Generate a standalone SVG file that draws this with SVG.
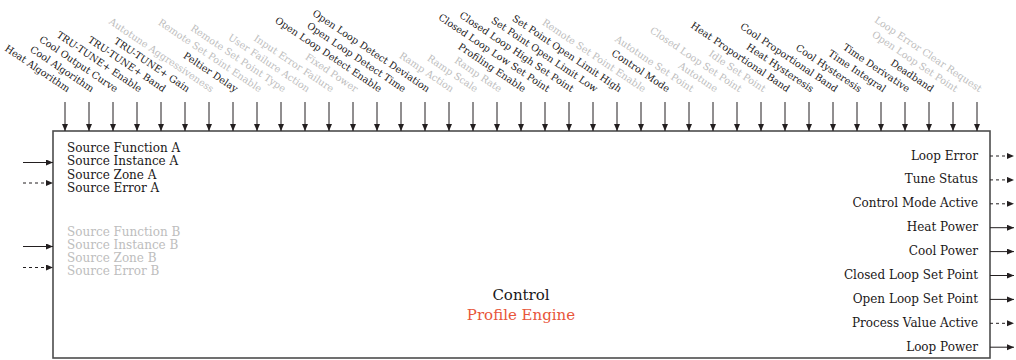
<svg xmlns="http://www.w3.org/2000/svg" width="1016" height="360" viewBox="0 0 1016 360">
  <style>
    text { font-family: "DejaVu Serif", "Liberation Serif", serif; fill: #1a1718; }
    .in { font-size: 9.7px; text-anchor: end; }
    .off { fill: #bdbdbd; }
    .src { font-size: 12px; }
    .out { font-size: 12px; text-anchor: end; }
    .title { font-size: 15px; text-anchor: middle; }
    .sub { fill: #e8553a; }
    .wire { stroke: #231f20; stroke-width: 1; fill: none; marker-end: url(#head); }
    .dash { stroke-dasharray: 3 3; }
    .block { fill: #fff; stroke: #4d4d4d; stroke-width: 1.6; }
  </style>
  <defs>
    <marker id="head" markerUnits="userSpaceOnUse" markerWidth="8" markerHeight="7" refX="7" refY="3" orient="auto">
      <path d="M0,0 L7,3 L0,6 z" fill="#231f20"/>
    </marker>
  </defs>

  <!-- main block -->
  <g id="control-block">
    <rect class="block" x="53" y="131" width="937" height="227"/>
    <text class="title" x="521" y="299.5">Control</text>
    <text class="title sub" x="521" y="320">Profile Engine</text>
  </g>

  <!-- parameter labels along the top edge -->
  <g id="parameters">
    <text class="in" transform="translate(67,92.5) rotate(34)">Heat Algorithm</text>
    <text class="in" transform="translate(91,92.5) rotate(34)">Cool Algorithm</text>
    <text class="in" transform="translate(115,92.5) rotate(34)">Cool Output Curve</text>
    <text class="in" transform="translate(139,92.5) rotate(34)">TRU-TUNE+ Enable</text>
    <text class="in" transform="translate(163,92.5) rotate(34)">TRU-TUNE+ Band</text>
    <text class="in" transform="translate(187,92.5) rotate(34)">TRU-TUNE+ Gain</text>
    <text class="in off" transform="translate(211,92.5) rotate(34)">Autotune Aggressiveness</text>
    <text class="in" transform="translate(235,92.5) rotate(34)">Peltier Delay</text>
    <text class="in off" transform="translate(259,92.5) rotate(34)">Remote Set Point Enable</text>
    <text class="in off" transform="translate(283,92.5) rotate(34)">Remote Set Point Type</text>
    <text class="in off" transform="translate(307,92.5) rotate(34)">User Failure Action</text>
    <text class="in off" transform="translate(331,92.5) rotate(34)">Input Error Failure</text>
    <text class="in off" transform="translate(355,92.5) rotate(34)">Fixed Power</text>
    <text class="in" transform="translate(379,92.5) rotate(34)">Open Loop Detect Enable</text>
    <text class="in" transform="translate(403,92.5) rotate(34)">Open Loop Detect Time</text>
    <text class="in" transform="translate(427,92.5) rotate(34)">Open Loop Detect Deviation</text>
    <text class="in off" transform="translate(451,92.5) rotate(34)">Ramp Action</text>
    <text class="in off" transform="translate(475,92.5) rotate(34)">Ramp Scale</text>
    <text class="in off" transform="translate(499,92.5) rotate(34)">Ramp Rate</text>
    <text class="in" transform="translate(523,92.5) rotate(34)">Profiling Enable</text>
    <text class="in" transform="translate(547,92.5) rotate(34)">Closed Loop Low Set Point</text>
    <text class="in" transform="translate(571,92.5) rotate(34)">Closed Loop High Set Point</text>
    <text class="in" transform="translate(595,92.5) rotate(34)">Set Point Open Limit Low</text>
    <text class="in" transform="translate(619,92.5) rotate(34)">Set Point Open Limit High</text>
    <text class="in off" transform="translate(643,92.5) rotate(34)">Remote Set Point Enable</text>
    <text class="in" transform="translate(667,92.5) rotate(34)">Control Mode</text>
    <text class="in off" transform="translate(691,92.5) rotate(34)">Autotune Set Point</text>
    <text class="in off" transform="translate(715,92.5) rotate(34)">Autotune</text>
    <text class="in off" transform="translate(739,92.5) rotate(34)">Closed Loop Set Point</text>
    <text class="in off" transform="translate(763,92.5) rotate(34)">Idle Set Point</text>
    <text class="in" transform="translate(787,92.5) rotate(34)">Heat Proportional Band</text>
    <text class="in" transform="translate(811,92.5) rotate(34)">Heat Hysteresis</text>
    <text class="in" transform="translate(835,92.5) rotate(34)">Cool Proportional Band</text>
    <text class="in" transform="translate(859,92.5) rotate(34)">Cool Hysteresis</text>
    <text class="in" transform="translate(883,92.5) rotate(34)">Time Integral</text>
    <text class="in" transform="translate(907,92.5) rotate(34)">Time Derivative</text>
    <text class="in" transform="translate(931,92.5) rotate(34)">Deadband</text>
    <text class="in off" transform="translate(955,92.5) rotate(34)">Open Loop Set Point</text>
    <text class="in off" transform="translate(979,92.5) rotate(34)">Loop Error Clear Request</text>
  </g>

  <!-- source inputs on the left edge -->
  <g id="source-a">
    <text class="src" x="67" y="152">Source Function A</text>
    <text class="src" x="67" y="165.3">Source Instance A</text>
    <text class="src" x="67" y="178.6">Source Zone A</text>
    <text class="src" x="67" y="192">Source Error A</text>
  </g>
  <g id="source-b">
    <text class="src off" x="67" y="235.5">Source Function B</text>
    <text class="src off" x="67" y="248.8">Source Instance B</text>
    <text class="src off" x="67" y="262.1">Source Zone B</text>
    <text class="src off" x="67" y="275.4">Source Error B</text>
  </g>

  <!-- outputs on the right edge -->
  <g id="outputs">
    <text class="out" x="978" y="159.5">Loop Error</text>
    <text class="out" x="978" y="183.4">Tune Status</text>
    <text class="out" x="978" y="207.3">Control Mode Active</text>
    <text class="out" x="978" y="231.2">Heat Power</text>
    <text class="out" x="978" y="255.1">Cool Power</text>
    <text class="out" x="978" y="279">Closed Loop Set Point</text>
    <text class="out" x="978" y="302.9">Open Loop Set Point</text>
    <text class="out" x="978" y="326.8">Process Value Active</text>
    <text class="out" x="978" y="350.7">Loop Power</text>
  </g>

  <!-- connectors -->
  <g id="connectors">
    <line class="wire" x1="65" y1="102" x2="65" y2="131"/>
    <line class="wire" x1="89" y1="102" x2="89" y2="131"/>
    <line class="wire" x1="113" y1="102" x2="113" y2="131"/>
    <line class="wire" x1="137" y1="102" x2="137" y2="131"/>
    <line class="wire" x1="161" y1="102" x2="161" y2="131"/>
    <line class="wire" x1="185" y1="102" x2="185" y2="131"/>
    <line class="wire" x1="209" y1="102" x2="209" y2="131"/>
    <line class="wire" x1="233" y1="102" x2="233" y2="131"/>
    <line class="wire" x1="257" y1="102" x2="257" y2="131"/>
    <line class="wire" x1="281" y1="102" x2="281" y2="131"/>
    <line class="wire" x1="305" y1="102" x2="305" y2="131"/>
    <line class="wire" x1="329" y1="102" x2="329" y2="131"/>
    <line class="wire" x1="353" y1="102" x2="353" y2="131"/>
    <line class="wire" x1="377" y1="102" x2="377" y2="131"/>
    <line class="wire" x1="401" y1="102" x2="401" y2="131"/>
    <line class="wire" x1="425" y1="102" x2="425" y2="131"/>
    <line class="wire" x1="449" y1="102" x2="449" y2="131"/>
    <line class="wire" x1="473" y1="102" x2="473" y2="131"/>
    <line class="wire" x1="497" y1="102" x2="497" y2="131"/>
    <line class="wire" x1="521" y1="102" x2="521" y2="131"/>
    <line class="wire" x1="545" y1="102" x2="545" y2="131"/>
    <line class="wire" x1="569" y1="102" x2="569" y2="131"/>
    <line class="wire" x1="593" y1="102" x2="593" y2="131"/>
    <line class="wire" x1="617" y1="102" x2="617" y2="131"/>
    <line class="wire" x1="641" y1="102" x2="641" y2="131"/>
    <line class="wire" x1="665" y1="102" x2="665" y2="131"/>
    <line class="wire" x1="689" y1="102" x2="689" y2="131"/>
    <line class="wire" x1="713" y1="102" x2="713" y2="131"/>
    <line class="wire" x1="737" y1="102" x2="737" y2="131"/>
    <line class="wire" x1="761" y1="102" x2="761" y2="131"/>
    <line class="wire" x1="785" y1="102" x2="785" y2="131"/>
    <line class="wire" x1="809" y1="102" x2="809" y2="131"/>
    <line class="wire" x1="833" y1="102" x2="833" y2="131"/>
    <line class="wire" x1="857" y1="102" x2="857" y2="131"/>
    <line class="wire" x1="881" y1="102" x2="881" y2="131"/>
    <line class="wire" x1="905" y1="102" x2="905" y2="131"/>
    <line class="wire" x1="929" y1="102" x2="929" y2="131"/>
    <line class="wire" x1="953" y1="102" x2="953" y2="131"/>
    <line class="wire" x1="977" y1="102" x2="977" y2="131"/>

    <line class="wire" x1="23" y1="162.5" x2="53" y2="162.5"/>
    <line class="wire dash" x1="23" y1="183" x2="53" y2="183"/>
    <line class="wire" x1="23" y1="246.5" x2="53" y2="246.5"/>
    <line class="wire dash" x1="23" y1="267.5" x2="53" y2="267.5"/>

    <line class="wire dash" x1="990" y1="156" x2="1014" y2="156"/>
    <line class="wire dash" x1="990" y1="179.9" x2="1014" y2="179.9"/>
    <line class="wire dash" x1="990" y1="203.8" x2="1014" y2="203.8"/>
    <line class="wire" x1="990" y1="227.7" x2="1014" y2="227.7"/>
    <line class="wire" x1="990" y1="251.6" x2="1014" y2="251.6"/>
    <line class="wire" x1="990" y1="275.5" x2="1014" y2="275.5"/>
    <line class="wire" x1="990" y1="299.4" x2="1014" y2="299.4"/>
    <line class="wire dash" x1="990" y1="323.3" x2="1014" y2="323.3"/>
    <line class="wire" x1="990" y1="347.2" x2="1014" y2="347.2"/>
  </g>
</svg>
